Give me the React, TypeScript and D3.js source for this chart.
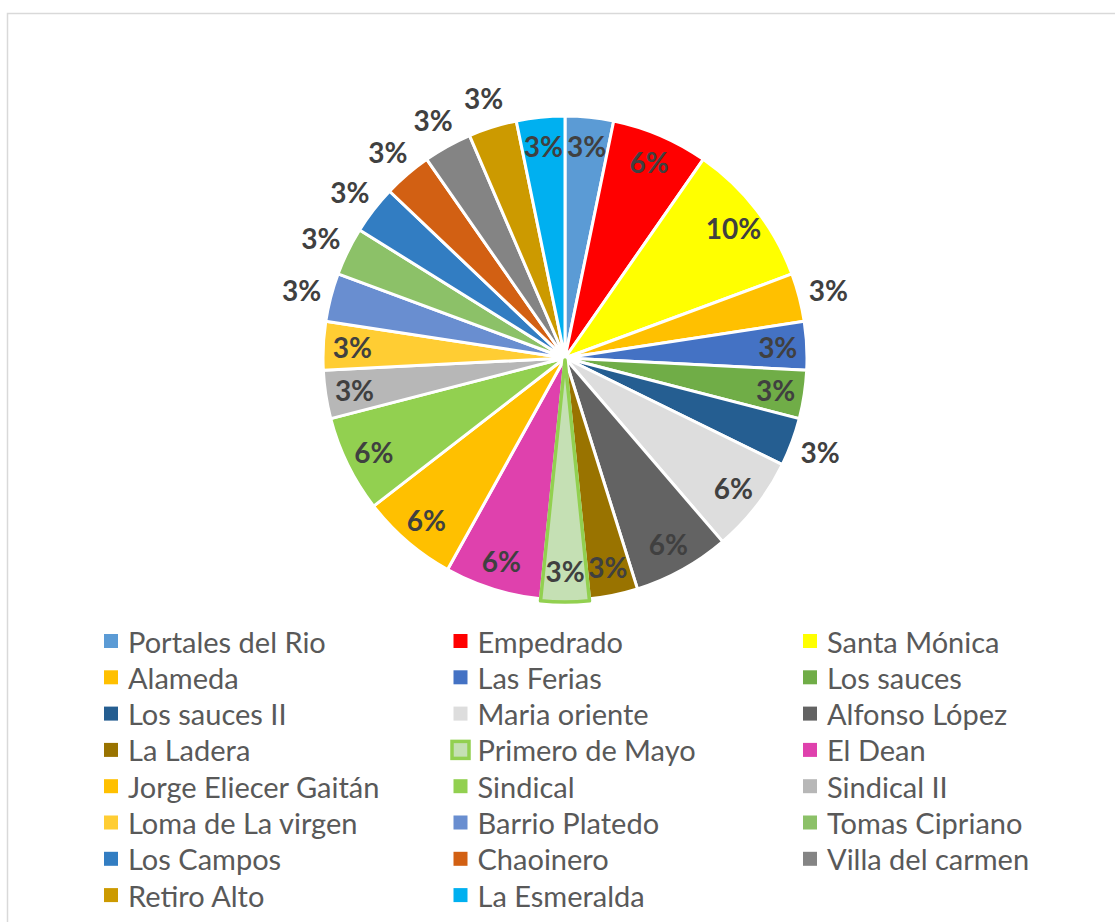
import React from 'react';
import * as d3 from 'd3';

const categories = [
  'Portales del Rio', 'Empedrado', 'Santa Mónica', 'Alameda', 'Las Ferias', 'Los sauces',
  'Los sauces II', 'Maria oriente', 'Alfonso López', 'La Ladera', 'Primero de Mayo', 'El Dean',
  'Jorge Eliecer Gaitán', 'Sindical', 'Sindical II', 'Loma de La virgen', 'Barrio Platedo',
  'Tomas Cipriano', 'Los Campos', 'Chaoinero', 'Villa del carmen', 'Retiro Alto', 'La Esmeralda',
];
const counts = [1, 2, 3, 1, 1, 1, 1, 2, 2, 1, 1, 2, 2, 2, 1, 1, 1, 1, 1, 1, 1, 1, 1];
const colors = [
  '#5B9BD5', '#FF0000', '#FFFF00', '#FFC000', '#4472C4', '#70AD47',
  '#255E91', '#DDDDDD', '#636363', '#997300', '#C5E0B4', '#DF41AD',
  '#FFC000', '#92D050', '#B7B7B7', '#FFCD33', '#698ED0',
  '#8CC168', '#327DC2', '#D26013', '#848484', '#CC9A00', '#00B0F0',
];
const outsideLabels = [
  'Alameda', 'Los sauces II', 'Barrio Platedo', 'Tomas Cipriano',
  'Los Campos', 'Chaoinero', 'Villa del carmen', 'Retiro Alto',
];
const highlighted = 'Primero de Mayo';
const highlightStroke = '#92D050';

const W = 1115;
const H = 922;
const cx = 565;
const cy = 358;
const R = 242;

export default function App() {
  const total = d3.sum(counts);
  const pct = d3.format('.0%');
  const pie = d3.pie<number>().sort(null).value((d) => d);
  const arcs = pie(counts);
  const arc = d3.arc<d3.PieArcDatum<number>>().innerRadius(0).outerRadius(R);

  const labelPos = (a: d3.PieArcDatum<number>, r: number) => {
    const m = (a.startAngle + a.endAngle) / 2;
    return [Math.sin(m) * r, -Math.cos(m) * r];
  };

  const order = arcs.map((_, i) => i).sort((a, b) =>
    (categories[a] === highlighted ? 1 : 0) - (categories[b] === highlighted ? 1 : 0));

  const cols = 3;
  const colX = [104, 453.5, 803];
  const rowY0 = 641;
  const rowStep = 36.3;

  return (
    <svg width={W} height={H} style={{ position: 'absolute', left: 0, top: 0 }}
      fontFamily="Lato, 'Noto Sans', sans-serif">
      <rect x={0} y={0} width={W} height={H} fill="#fff" />
      <rect x={7.5} y={13.5} width={W + 50} height={H + 50} fill="#fff" stroke="#D9D9D9" strokeWidth={1.5} />
      <g transform={`translate(${cx},${cy})`}>
        {order.map((i) => {
          const a = arcs[i];
          const hl = categories[i] === highlighted;
          const [ox, oy] = hl ? labelPos(a, 2) : [0, 0];
          return (
            <path key={i} d={arc(a) || ''} fill={colors[i]}
              transform={`translate(${ox},${oy})`}
              stroke={hl ? highlightStroke : '#fff'} strokeWidth={hl ? 3.5 : 3}
              strokeLinejoin="round" />
          );
        })}
        {arcs.map((a, i) => {
          const outside = outsideLabels.includes(categories[i]);
          const [x, y] = labelPos(a, outside ? 272 : 213);
          return (
            <text key={i} x={x} y={y} textAnchor="middle" dominantBaseline="central"
              fontSize={28} fontWeight="bold" fill="#404040">
              {pct(counts[i] / total)}
            </text>
          );
        })}
      </g>
      <g>
        {categories.map((c, i) => {
          const col = i % cols;
          const row = Math.floor(i / cols);
          const x = colX[col];
          const y = rowY0 + row * rowStep;
          const hl = c === highlighted;
          return (
            <g key={c}>
              {hl ? (
                <rect x={x - 1.5} y={y - 8.5} width={17} height={17} fill={colors[i]}
                  stroke={highlightStroke} strokeWidth={3.5} />
              ) : (
                <rect x={x} y={y - 7} width={14} height={14} fill={colors[i]} />
              )}
              <text x={x + 24} y={y} dominantBaseline="central" fontSize={29} fill="#595959">
                {c}
              </text>
            </g>
          );
        })}
      </g>
    </svg>
  );
}
